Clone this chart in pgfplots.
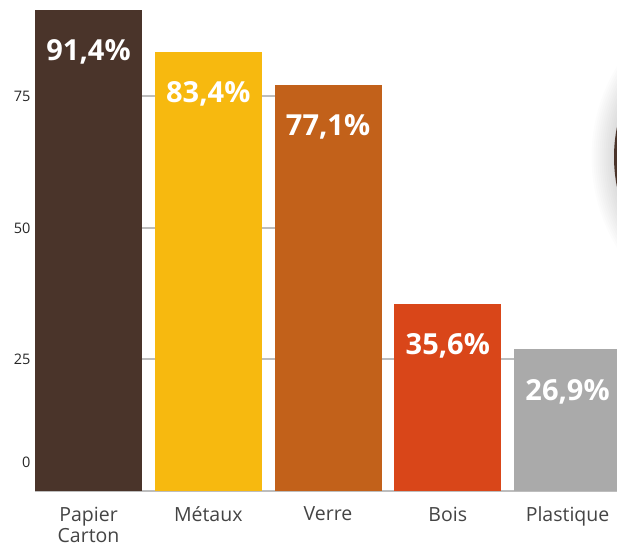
\documentclass[border=0pt]{standalone}
\usepackage{fontspec}
\setmainfont{Open Sans}
\usepackage{pgfplots}
\pgfplotsset{compat=1.18}

\definecolor{cPapier}{HTML}{4A342A}
\definecolor{cMetaux}{HTML}{F7B90F}
\definecolor{cVerre}{HTML}{C2611A}
\definecolor{cBois}{HTML}{D94619}
\definecolor{cPlast}{HTML}{AAAAAA}
\definecolor{cGrid}{HTML}{BDBDBD}
\definecolor{cText}{HTML}{444444}

\begin{document}
\begin{tikzpicture}
\begin{axis}[
    scale only axis,
    width=582pt, height=493pt,
    xmin=-0.447, xmax=4.413,
    ymin=-0.38, ymax=93.3,
    axis line style={draw=none},
    ybar, bar width=107pt, bar shift=0pt,
    xtick={0,1,2,3,4},
    xticklabels={{Papier\\Carton},M\'etaux,Verre,Bois,Plastique},
    xticklabel style={align=center, font=\fontsize{19.5}{21}\selectfont,
        text=cText, yshift=-6pt},
    ytick={25,50,75},
    extra y ticks={0},
    extra y tick style={grid=major, yticklabel style={yshift=29pt},
        major grid style={cGrid, line width=2.5pt}},
    yticklabel style={font=\fontsize{14.5}{16}\selectfont, text=black!85, xshift=-1pt},
    tick style={draw=none},
    /pgf/number format/assume math mode=true,
    nodes near coords={\pgfmathprintnumber[use comma, fixed, fixed zerofill, precision=1]{\pgfplotspointmeta}\%},
    every node near coord/.append style={anchor=center, yshift=-42pt,
        text=white, font=\bfseries\fontsize{29}{31}\selectfont},
]
% grid segments only in the gaps between bars
\draw[cGrid, line width=2pt] (axis cs:0.44,25) -- (axis cs:0.56,25);
\draw[cGrid, line width=2pt] (axis cs:0.44,50) -- (axis cs:0.56,50);
\draw[cGrid, line width=2pt] (axis cs:0.44,75) -- (axis cs:0.56,75);
\draw[cGrid, line width=2pt] (axis cs:1.44,25) -- (axis cs:1.56,25);
\draw[cGrid, line width=2pt] (axis cs:1.44,50) -- (axis cs:1.56,50);
\draw[cGrid, line width=2pt] (axis cs:1.44,75) -- (axis cs:1.56,75);
\draw[cGrid, line width=2pt] (axis cs:2.44,25) -- (axis cs:2.56,25);
\draw[cGrid, line width=2pt] (axis cs:3.44,25) -- (axis cs:3.56,25);
\addplot[fill=cPapier, draw=none] coordinates {(0,91.4)};
\addplot[fill=cMetaux, draw=none] coordinates {(1,83.4)};
\addplot[fill=cVerre, draw=none] coordinates {(2,77.1)};
\addplot[fill=cBois, draw=none] coordinates {(3,35.6)};
\addplot[fill=cPlast, draw=none] coordinates {(4,26.9)};
\end{axis}
% edge of a round picture cut by the right border, with its soft shadow
\begin{scope}
\clip (-35pt,-55pt) rectangle (582pt,493pt);
\foreach \r in {174,172,...,152} {
  \fill[black, opacity=0.012] (730.5pt,336pt) circle (\r pt);
}
\fill[cPapier] (730.5pt,336pt) circle (151.5pt);
\end{scope}
\pgfresetboundingbox
\path (-35pt,-55pt) rectangle (582pt,493pt);
\end{tikzpicture}
\end{document}
